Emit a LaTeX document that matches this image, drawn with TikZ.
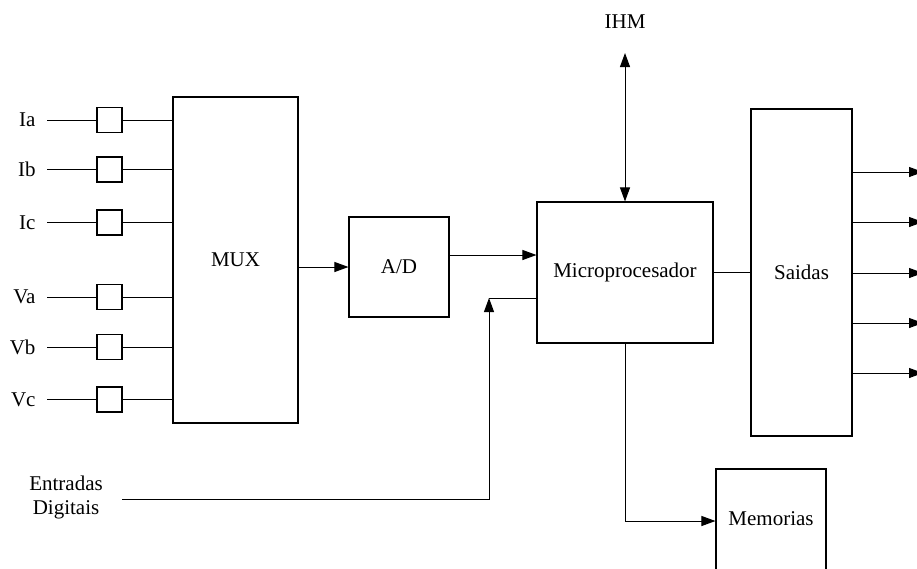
\documentclass[tikz,border=0pt]{standalone}
\usepackage{fontspec}
\setmainfont{Liberation Serif}
\usetikzlibrary{arrows.meta,calc}
\begin{document}
\begin{tikzpicture}[x=1pt,y=-1pt,
  line width=1pt,
  font=\fontsize{21}{24}\selectfont,
  blk/.style={draw, rectangle, line width=1.1pt, inner sep=0pt, align=center},
  filt/.style={draw, rectangle, line width=1.1pt, minimum width=25pt, minimum height=25pt, inner sep=0pt},
  lbl/.style={inner sep=0pt, anchor=east},
  arr/.style={-{Triangle[length=14pt,width=10pt]}},
  darr/.style={{Triangle[length=14pt,width=10pt]}-{Triangle[length=14pt,width=10pt]}}
]
\useasboundingbox (0,0) rectangle (917,568);

% main blocks
\node[blk, minimum width=125pt, minimum height=326pt] (mux) at (235.5,260) {MUX};
\node[blk, minimum width=100pt, minimum height=100pt] (ad) at (399,267) {A/D};
\node[blk, minimum width=176pt, minimum height=141pt] (mic) at (625,272.5) {Microprocesador};
\node[blk, minimum width=101pt, minimum height=327pt] (sai) at (801.5,272.5) {Saidas};
\node[blk, minimum width=110pt, minimum height=104pt] (mem) at (771,521) {};
\node[inner sep=0pt] (memt) at (771,519) {Memorias};

% inputs
\foreach \n/\t/\y in {1/Ia/120, 2/Ib/169.5, 3/Ic/222.5, 4/Va/297, 5/Vb/347, 6/Vc/399.5}{
  \node[lbl] (l\n) at (36,\y) {\t};
  \coordinate (s\n) at (47,\y);
  \node[filt] (f\n) at (109.5,\y) {};
  \draw (s\n) -- (f\n.west);
  \draw (f\n.east) -- (f\n.east -| mux.west);
}

% MUX -> A/D
\draw[arr] (mux.east |- ad.west) -- (ad.west);

% A/D -> Micro
\coordinate (adout) at ([yshift=12pt]ad.east);
\draw[arr] (adout) -- (adout -| mic.west);

% Entradas Digitais
\node[inner sep=0pt, align=center] (ent) at (66,497) {Entradas\\Digitais};
\coordinate (es) at (122,499);
\coordinate (dj) at (489,298);
\draw[arr] (es) -| (dj);
\draw (dj) -- (dj -| mic.west);

% IHM
\node[inner sep=0pt] (ihm) at (625,22) {IHM};
\coordinate (ihmend) at (625,53);
\draw[darr] (ihmend) -- (mic.north);

% Micro -> Saidas
\draw (mic.east) -- (sai.west);

% Micro -> Memorias
\draw[arr] (mic.south) |- (mem.west);

% Outputs
\foreach \k/\y in {1/172, 2/222, 3/273, 4/323, 5/373}{
  \coordinate (o\k) at (sai.east |- 0,\y);
  \coordinate (oe\k) at (923,\y);
  \draw[arr] (o\k) -- (oe\k);
}
\end{tikzpicture}
\end{document}
